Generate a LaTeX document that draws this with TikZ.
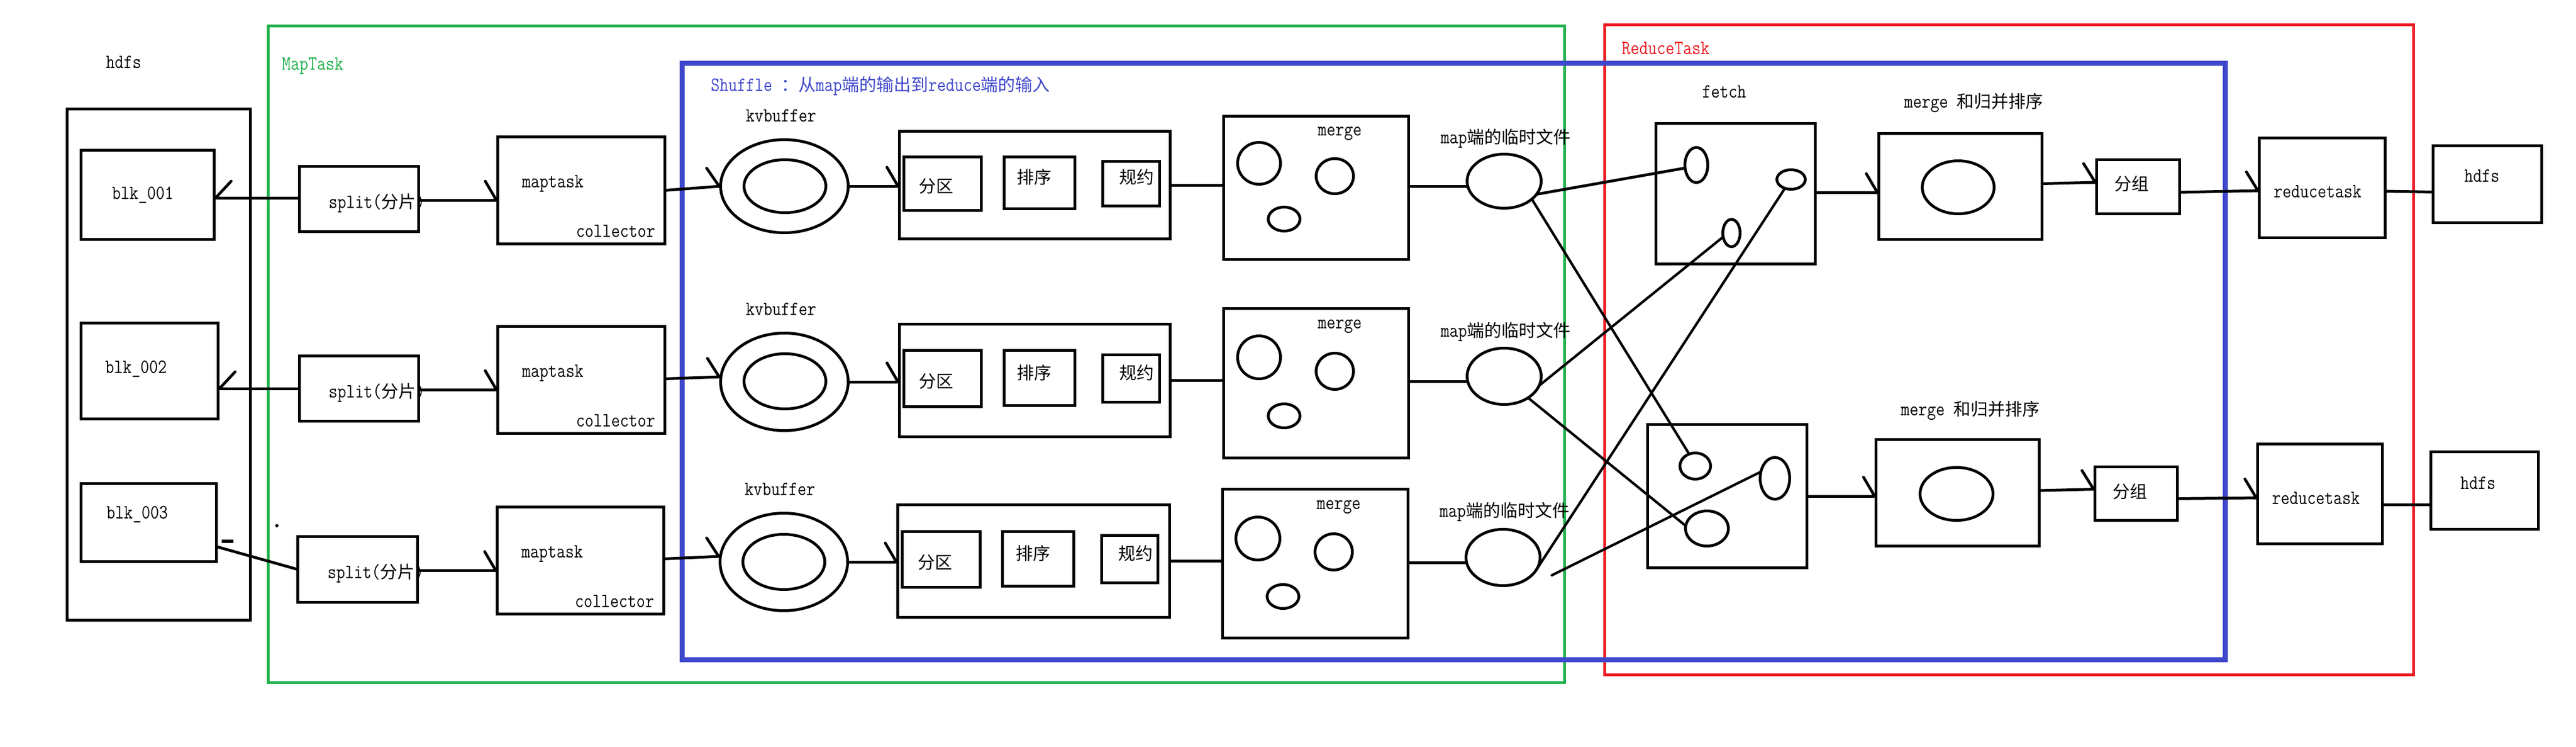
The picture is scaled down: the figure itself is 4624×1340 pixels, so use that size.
\documentclass[tikz,border=0pt]{standalone}
\usepackage{fontspec}
\setmainfont{Latin Modern Mono}[FakeStretch=0.85]
\newfontfamily\cjkfont{Noto Sans CJK SC}
\newcommand{\zh}[1]{{\cjkfont\fontsize{31}{36}\selectfont #1}}
\usetikzlibrary{arrows.meta,shapes.geometric,calc}
\definecolor{pgreen}{RGB}{34,177,76}
\definecolor{pblue}{RGB}{63,72,204}
\definecolor{pred}{RGB}{237,28,36}
\tikzset{
  box/.style={draw, rectangle, line width=5pt, inner sep=0pt, outer sep=0pt},
  ell/.style={draw, ellipse, line width=5pt, inner sep=0pt, outer sep=0pt},
  txt/.style={inner sep=0pt, outer sep=0pt, font=\fontsize{36}{42}\selectfont},
  con/.style={line width=5pt, line cap=round},
  thin con/.style={line width=4.5pt, line cap=round},
  arr/.style={con, -{Straight Barb[left, length=20pt, width=68pt, round]}},
  arrw/.style={con, -{Straight Barb[right, length=28pt, width=60pt, round]}},
}
\newcommand{\mybox}[5]{\node[box, minimum width=#4pt, minimum height=#5pt] (#1) at (#2,#3) {};}
\newcommand{\myell}[5]{\node[ell, minimum width=#4pt, minimum height=#5pt] (#1) at (#2,#3) {};}
\begin{document}
\begin{tikzpicture}[x=1pt,y=-1pt]
\useasboundingbox (0,0) rectangle (4624,1340);
\fill[white] (0,0) rectangle (4624,1340);

% group frames
\draw[line width=5pt, pgreen] (481,47) rectangle (2808,1224);
\draw[line width=5pt, pred] (2880,45) rectangle (4332,1210);
\draw[line width=9pt, pblue] (1224,114) rectangle (3994,1183);

% titles
\node[txt] (thdfs) at (222,112) {hdfs};
\node[txt, anchor=west, text=pgreen] (tmaptask) at (506,118) {MapTask};
\node[txt, anchor=west, text=pblue] (tshuffle) at (1276,154) {Shuffle \zh{：从}map\zh{端的输出到}reduce\zh{端的输入}};
\node[txt, anchor=west, text=pred] (treduce) at (2911,87) {ReduceTask};

% hdfs blocks
\mybox{hdfsL}{285}{654}{329}{917}
\mybox{blk1}{265}{349.5}{239}{160}
\mybox{blk2}{268.5}{665.5}{246}{172}
\mybox{blk3}{267}{937.5}{243}{140}
\node[txt, anchor=west] (tblk1) at (201,350) {blk\_001};
\node[txt, anchor=west] (tblk2) at (189,662) {blk\_002};
\node[txt, anchor=west] (tblk3) at (191,923) {blk\_003};

% split
\mybox{split1}{644.5}{357}{214}{117}
\mybox{split2}{644.5}{697}{214}{117}
\mybox{split3}{642}{1021.5}{215}{118}
\node[txt, anchor=west] (tsplit1) at (590,364) {split(\zh{分片})};
\node[txt, anchor=west] (tsplit2) at (590,704) {split(\zh{分片})};
\node[txt, anchor=west] (tsplit3) at (588,1028) {split(\zh{分片})};

% maptask
\mybox{map1}{1043.5}{341.5}{300}{192}
\mybox{map2}{1043.5}{681.5}{300}{192}
\mybox{map3}{1042}{1005.5}{299}{192}
\node[txt, anchor=west] (tmap1) at (937,329) {maptask};
\node[txt, anchor=west] (tmap2) at (937,669) {maptask};
\node[txt, anchor=west] (tmap3) at (936,993) {maptask};
\node[txt, anchor=east] (tcol1) at (1176,415) {collector};
\node[txt, anchor=east] (tcol2) at (1176,755) {collector};
\node[txt, anchor=east] (tcol3) at (1174,1079) {collector};

% kvbuffer
\node[txt] (tkv1) at (1402,208) {kvbuffer};
\node[txt] (tkv2) at (1402,554) {kvbuffer};
\node[txt] (tkv3) at (1400,877) {kvbuffer};
\myell{kvo1}{1408}{334}{229}{167}
\myell{kvi1}{1409}{334}{147}{95}
\myell{kvo2}{1408}{685}{229}{175}
\myell{kvi2}{1409}{684}{147}{99}
\myell{kvo3}{1407}{1008}{229}{175}
\myell{kvi3}{1407}{1008}{147}{99}

% partition / sort / combine
\mybox{big1}{1857.5}{332}{486}{193}
\mybox{big2}{1857.5}{682.5}{486}{202}
\mybox{big3}{1855.5}{1006.5}{488}{202}
\mybox{fq1}{1692}{329.5}{139}{96}
\mybox{px1}{1866}{328}{127}{93}
\mybox{gy1}{2030.5}{329.5}{102}{80}
\mybox{fq2}{1692}{679}{139}{101}
\mybox{px2}{1866}{678}{127}{99}
\mybox{gy2}{2030.5}{679}{102}{85}
\mybox{fq3}{1689.5}{1003.5}{140}{100}
\mybox{px3}{1863.5}{1002.5}{128}{98}
\mybox{gy3}{2028}{1003}{101}{85}
\node[txt] (tfq1) at (1680,334) {\zh{分区}};
\node[txt] (tpx1) at (1856,318) {\zh{排序}};
\node[txt] (tgy1) at (2040,318) {\zh{规约}};
\node[txt] (tfq2) at (1680,684) {\zh{分区}};
\node[txt] (tpx2) at (1856,669) {\zh{排序}};
\node[txt] (tgy2) at (2040,669) {\zh{规约}};
\node[txt] (tfq3) at (1678,1009) {\zh{分区}};
\node[txt] (tpx3) at (1854,993) {\zh{排序}};
\node[txt] (tgy3) at (2038,993) {\zh{规约}};

% merge (map side)
\mybox{mg1}{2362.5}{337}{332}{257}
\mybox{mg2}{2362.5}{687.5}{332}{268}
\mybox{mg3}{2361}{1011}{333}{267}
\node[txt] (tmg1) at (2405,240) {merge};
\node[txt] (tmg2) at (2405,586) {merge};
\node[txt] (tmg3) at (2403,910) {merge};
\myell{m1a}{2260}{293}{77}{75}
\myell{m1b}{2396}{316}{67}{63}
\myell{m1c}{2305}{393}{57}{43}
\myell{m2a}{2260}{641}{77}{77}
\myell{m2b}{2396}{666}{67}{65}
\myell{m2c}{2305}{746}{57}{43}
\myell{m3a}{2258}{966}{79}{77}
\myell{m3b}{2394}{990}{67}{65}
\myell{m3c}{2303}{1070}{57}{43}

% map side temp files
\node[txt, anchor=west] (ttmp1) at (2586,248) {map\zh{端的临时文件}};
\node[txt, anchor=west] (ttmp2) at (2586,595) {map\zh{端的临时文件}};
\node[txt, anchor=west] (ttmp3) at (2584,918) {map\zh{端的临时文件}};
\myell{tmp1}{2700}{325}{133}{97}
\myell{tmp2}{2700}{675}{133}{101}
\myell{tmp3}{2698}{1000}{133}{101}

% fetch
\node[txt] (tfetch) at (3095,165) {fetch};
\mybox{fetch1}{3115.5}{347.5}{286}{252}
\mybox{fetch2}{3100.5}{890}{286}{257}
\myell{fA}{3045}{296}{41}{63}
\myell{fB}{3215}{322}{51}{35}
\myell{fC}{3108}{418}{31}{49}
\myell{fD}{3043}{836}{55}{47}
\myell{fE}{3186}{858}{53}{75}
\myell{fF}{3064}{948}{77}{63}

% reduce side merge
\node[txt, anchor=west] (trm1) at (3418,185) {merge \zh{和归并排序}};
\node[txt, anchor=west] (trm2) at (3412,737) {merge \zh{和归并排序}};
\mybox{rm1}{3519}{334.5}{293}{190}
\mybox{rm2}{3514}{884}{293}{191}
\myell{rmc1}{3515}{336}{129}{95}
\myell{rmc2}{3512}{886}{131}{95}

% grouping
\mybox{fz1}{3838}{335}{149}{97}
\mybox{fz2}{3834.5}{885.5}{148}{96}
\node[txt] (tfz1) at (3826,330) {\zh{分组}};
\node[txt] (tfz2) at (3823,882) {\zh{分组}};

% reducetask
\mybox{rt1}{4168.5}{337}{226}{179}
\mybox{rt2}{4164.5}{886}{224}{179}
\node[txt] (trt1) at (4160,344) {reducetask};
\node[txt] (trt2) at (4157,894) {reducetask};

% hdfs output
\mybox{hd1}{4465}{330.5}{195}{138}
\mybox{hd2}{4460}{880}{193}{139}
\node[txt] (thd1) at (4455,316) {hdfs};
\node[txt] (thd2) at (4448,866) {hdfs};

% ---------- connectors ----------
% split -> blk
\draw[arrw] ([yshift=2pt]split1.west) -- ([yshift=2pt]split1.west -| blk1.east);
\draw[arrw] (split2.west) -- (split2.west -| blk2.east);
\draw[con] ([yshift=-43pt]blk3.east) -- (split3.west);
\draw[line width=6pt] (398,971) -- (419,971);
\fill (497,943) circle[radius=3pt];

% split -> maptask
\draw[arr] ([yshift=-2pt]split1.east) -- ([yshift=-2pt]split1.east -| map1.west);
\draw[arr] ([yshift=-2pt]split2.east) -- ([yshift=-2pt]split2.east -| map2.west);
\draw[arr] ([yshift=-2pt]split3.east) -- ([yshift=-2pt]split3.east -| map3.west);

% maptask -> kvbuffer
\draw[arr] (map1.east) -- (kvo1.west);
\draw[arr] ([yshift=2pt]map2.east) -- ([yshift=9pt]kvo2.west);
\draw[arr] ([yshift=3pt]map3.east) -- ([yshift=10pt]kvo3.west);

% kvbuffer -> partition box
\draw[arr] (kvo1.east) -- (kvo1.east -| big1.west);
\draw[arr] (kvo2.east) -- (kvo2.east -| big2.west);
\draw[arr] (kvo3.east) -- (kvo3.east -| big3.west);

% partition box -> merge
\draw[con] (big1.east) -- (big1.east -| mg1.west);
\draw[con] (big2.east) -- (big2.east -| mg2.west);
\draw[con] (big3.east) -- (big3.east -| mg3.west);

% merge -> temp file
\draw[con] ([yshift=3pt]mg1.east) -- ([yshift=3pt]mg1.east -| tmp1.west);
\draw[con] ([yshift=3pt]mg2.east) -- ([yshift=3pt]mg2.east -| tmp2.west);
\draw[con] ([yshift=2pt]mg3.east) -- ([yshift=2pt]mg3.east -| tmp3.west);

% temp files -> fetch (crossing lines)
\draw[con] (tmp1.-22) -- (fA.195);
\draw[thin con] (tmp1.-33) -- (fD.117);
\draw[thin con] (fC.205) -- (tmp2.-15);
\draw[thin con] (tmp2.-42) -- (fF.173);
\draw[thin con] (fB.235) -- (tmp3.-19);
\draw[thin con] ($(tmp3.east)+(21,32)$) -- (fE.155);

% fetch -> merge -> group -> reducetask -> hdfs
\draw[arr] ([yshift=2pt]fetch1.east) -- ([yshift=2pt]fetch1.east -| rm1.west);
\draw[arr] (fetch2.east) -- (fetch2.east -| rm2.west);
\draw[arr] ([yshift=5pt]rm1.east) -- ([yshift=8pt]fz1.west);
\draw[arr] ([yshift=4pt]rm2.east) -- ([yshift=8pt]fz2.west);
\draw[arr] ([yshift=-10pt]fz1.east) -- ([yshift=-5pt]rt1.west);
\draw[arr] ([yshift=-9pt]fz2.east) -- ([yshift=-7pt]rt2.west);
\draw[con] ([yshift=-6pt]rt1.east) -- ([yshift=-14pt]hd1.west);
\draw[con] ([yshift=-19pt]rt2.east) -- ([yshift=-25pt]hd2.west);
\end{tikzpicture}
\end{document}
